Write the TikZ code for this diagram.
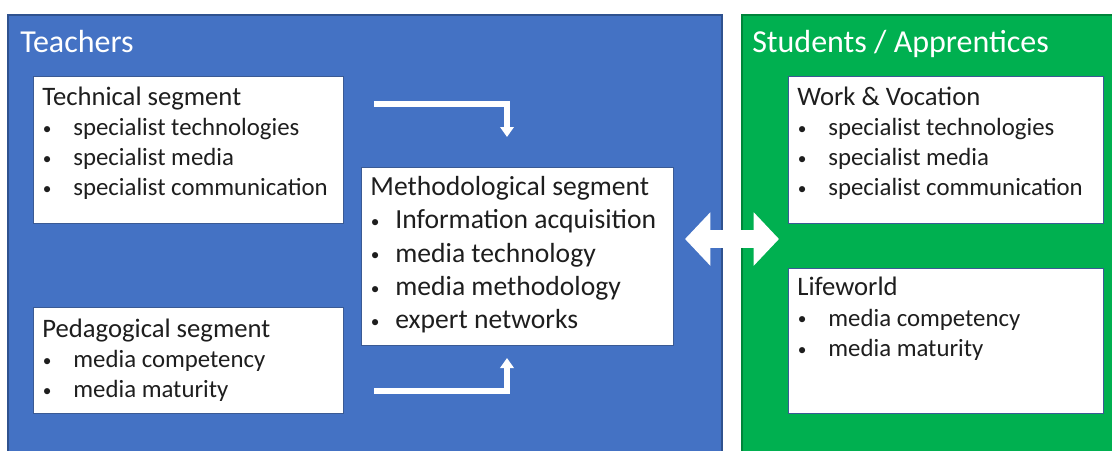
\documentclass[tikz,border=0pt]{standalone}
\usepackage{fontspec}
\setmainfont{Carlito}
\usetikzlibrary{arrows.meta}

\definecolor{teachblue}{HTML}{4472C4}
\definecolor{teachline}{HTML}{2F528F}
\definecolor{studgreen}{HTML}{00B050}
\definecolor{studline}{HTML}{00843A}
\definecolor{segline}{HTML}{3A5A94}
\definecolor{segtext}{HTML}{1E1E1E}

\tikzstyle{heading}=[anchor=base west, inner sep=0pt, text=white,
                     font=\fontsize{24}{28}\selectfont]
\tikzstyle{element}=[rectangle, fill=white, draw=segline, line width=0.6pt,
                     anchor=north west, inner sep=0pt, text=segtext]
\tikzstyle{elbow}=[white, line width=4.8pt, -{Triangle[width=10pt,length=7.5pt]}]
\tikzstyle{exchange}=[white, line width=13.5pt,
                      {Triangle[width=39pt,length=19pt]}-{Triangle[width=39pt,length=19pt]}]

% segment text: width, height, first baseline, bullet indent, lines
\newcommand{\segbody}[5]{%
  \begin{minipage}[t][#2][t]{#1}%
    \setlength{\leftskip}{6.75pt}\def\itmwd{#4}%
    \rule{0pt}{#3}#5%
  \end{minipage}}
\newcommand{\itm}[1]{\par\makebox[\itmwd][l]{\hspace*{0.3pt}%
  \raisebox{0.9pt}{\fontsize{13}{13}\selectfont\textbullet}}#1}

\begin{document}
\begin{tikzpicture}[x=0.75pt, y=-0.75pt]
  \useasboundingbox (0,0) rectangle (1112,450);

  %%%%%%%%%%%%%%%%%%%%%%%%%%%%%%
  % panels
  \filldraw[fill=teachblue, draw=teachline, line width=0.8pt] (8,15) rectangle (722,456);
  \node (teachers) at (20,52) [heading] {Teachers};

  \filldraw[fill=studgreen, draw=studline, line width=0.8pt] (742,15) rectangle (1118,456);
  \node (students) at (752,52) [heading] {Students / Apprentices};

  %%%%%%%%%%%%%%%%%%%%%%%%%%%%%%
  % segments
  % teachers
  \node (tech) at (33,76) [element] {\segbody{232.5pt}{110.25pt}{21.75pt}{23.25pt}{%
    \fontsize{20}{22.5}\selectfont Technical segment
    \fontsize{18.6}{22.5}\selectfont
    \itm{specialist technologies}
    \itm{specialist media}
    \itm{specialist communication}}};

  \node (peda) at (33,307) [element] {\segbody{232.5pt}{79.5pt}{22.5pt}{23.25pt}{%
    \fontsize{20}{22.5}\selectfont Pedagogical segment
    \fontsize{18.6}{22.5}\selectfont
    \itm{media competency}
    \itm{media maturity}}};

  \node (method) at (361,167) [element] {\segbody{234pt}{133.5pt}{21pt}{18.75pt}{%
    \fontsize{20.7}{25}\selectfont Methodological segment
    \itm{Information acquisition}
    \itm{media technology}
    \itm{media methodology}
    \itm{expert networks}}};

  % students
  \node (work) at (788,76) [element] {\segbody{236.25pt}{110.25pt}{21.75pt}{23.25pt}{%
    \fontsize{20}{22.5}\selectfont Work \& Vocation
    \fontsize{18.6}{22.5}\selectfont
    \itm{specialist technologies}
    \itm{specialist media}
    \itm{specialist communication}}};

  \node (life) at (788,268) [element] {\segbody{236.25pt}{108.75pt}{20.25pt}{23.25pt}{%
    \fontsize{20}{23}\selectfont Lifeworld
    \fontsize{18.6}{23}\selectfont
    \itm{media competency}
    \itm{media maturity}}};

  %%%%%%%%%%%%%%%%%%%%%%%%%%%%%%
  % links
  \coordinate (tech_out) at (374,104);
  \coordinate (method_top) at (507,137);
  \draw [elbow] (tech_out) -| (method_top);

  \coordinate (peda_out) at (374,391);
  \coordinate (method_bot) at (507,358);
  \draw [elbow] (peda_out) -| (method_bot);

  \coordinate (method_out) at (685,239);
  \coordinate (students_in) at (779,239);
  \draw [exchange] (method_out) -- (students_in);

\end{tikzpicture}
\end{document}
